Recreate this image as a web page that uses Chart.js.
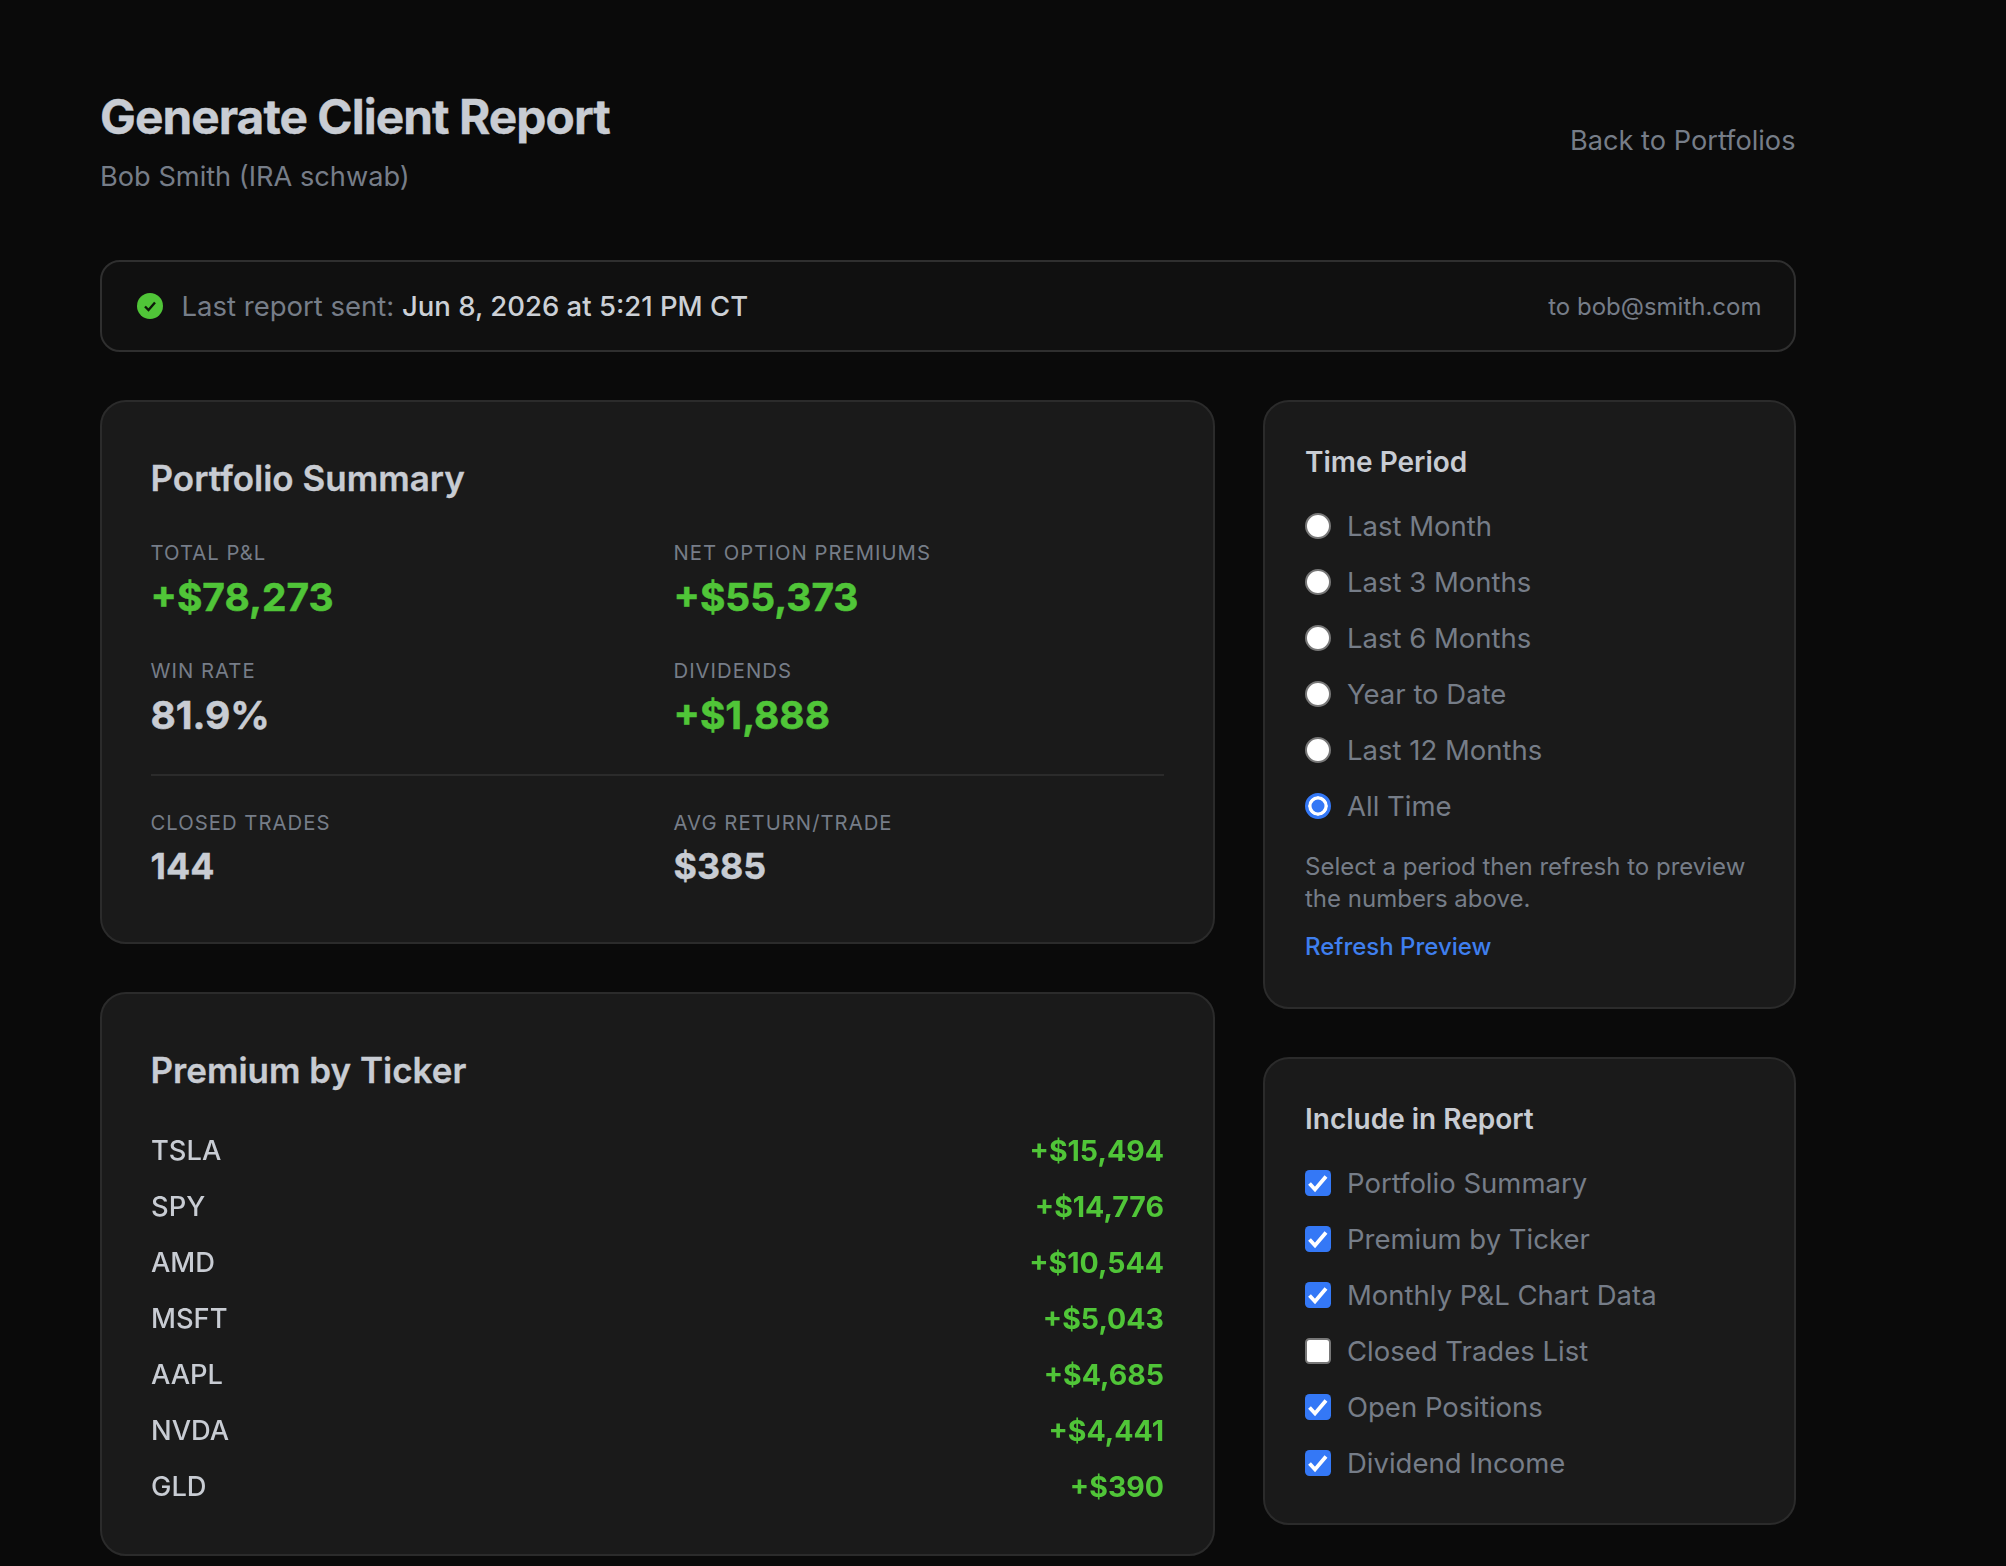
<!DOCTYPE html>
<html>
<head>
<meta charset="utf-8">
<title>Generate Client Report</title>
<script src="https://cdn.jsdelivr.net/npm/chart.js@4"></script>
<style>
  html, body { margin: 0; background: #0a0a0a; }
  body { width: 2006px; height: 1566px; position: relative; overflow: hidden; font-family: Inter, sans-serif; color: #767d88; }
  .t { position: absolute; transform: translateY(-50%); white-space: nowrap; line-height: 1.2; }
  .box { position: absolute; box-sizing: border-box; background: #1a1a1a; border: 2px solid #2b2b2b; border-radius: 26px; }
  .h1 { font-size: 47.8px; font-weight: 700; color: #c8ccd3; letter-spacing: -0.02em; -webkit-text-stroke: 0.4px; }
  .h2 { font-size: 35px; font-weight: 600; color: #c8ccd3; -webkit-text-stroke: 0.3px; }
  .h3 { font-size: 28px; font-weight: 600; color: #c8ccd3; }
  .body { font-size: 27.5px; }
  .sub { font-size: 27.2px; }
  .small { font-size: 24px; }
  .lbl { font-size: 20.3px; letter-spacing: 0.05em; }
  .val { font-size: 38.9px; font-weight: 700; color: #c8ccd3; -webkit-text-stroke: 0.5px; }
  .val2 { font-size: 35.8px; font-weight: 700; color: #c8ccd3; -webkit-text-stroke: 0.4px; }
  .green { color: #50c538; }
  .radio { position: absolute; width: 26px; height: 26px; box-sizing: border-box; border-radius: 50%; background: #fff; border: 2px solid #777; transform: translate(-50%,-50%); }
  .radio.on { background: #3478f6; border: 3px solid #3478f6; box-shadow: inset 0 0 0 3.5px #fff; }
  .check { position: absolute; width: 26px; height: 26px; box-sizing: border-box; border-radius: 4.5px; background: #fff; border: 2px solid #777; transform: translate(-50%,-50%); }
  .check.on { background: #3478f6; border: 0; }
  .check svg { position: absolute; left: 0; top: 0; }
  #tickerWrap { position: absolute; left: 151px; top: 1124px; width: 1013px; height: 392px; }
</style>
</head>
<body>
<div id="page"></div>
<div class="box" style="left:100px;top:992px;width:1115px;height:564px"></div>
<div class="t h2" style="left:150.5px;top:1070px">Premium by Ticker</div>
<div id="tickerWrap"><canvas id="tickerChart"></canvas></div>
<script>
const tickers = ['TSLA', 'SPY', 'AMD', 'MSFT', 'AAPL', 'NVDA', 'GLD'];
const premiums = [15494, 14776, 10544, 5043, 4685, 4441, 390];

const topLabels = ['TOTAL P&L', 'NET OPTION PREMIUMS', 'WIN RATE', 'DIVIDENDS'];
const topValues = ['+$78,273', '+$55,373', '81.9%', '+$1,888'];
const bottomLabels = ['CLOSED TRADES', 'AVG RETURN/TRADE'];
const bottomValues = ['144', '$385'];

const periods = ['Last Month', 'Last 3 Months', 'Last 6 Months', 'Year to Date', 'Last 12 Months', 'All Time'];
const selectedPeriod = 'All Time';
const sections = ['Portfolio Summary', 'Premium by Ticker', 'Monthly P&L Chart Data', 'Closed Trades List', 'Open Positions', 'Dividend Income'];
const unchecked = ['Closed Trades List'];

const page = document.getElementById('page');
function text(cls, x, y, str, right) {
  const d = document.createElement('div');
  d.className = 't ' + cls;
  d.style.top = y + 'px';
  if (right) d.style.right = (2006 - x) + 'px'; else d.style.left = x + 'px';
  d.textContent = str;
  page.appendChild(d);
  return d;
}
function box(x, y, w, h, extra) {
  const d = document.createElement('div');
  d.className = 'box';
  d.style.cssText = `left:${x}px;top:${y}px;width:${w}px;height:${h}px;` + (extra || '');
  page.appendChild(d);
}

// header
text('h1', 100, 117.5, 'Generate Client Report');
text('sub', 100, 176.5, 'Bob Smith (IRA schwab)');
text('sub', 1795.5, 140.5, 'Back to Portfolios', true);

// status bar
box(100, 260, 1696, 92, 'background:#101010;border-color:#2f2f2f;border-radius:20px;');
const icon = document.createElement('div');
icon.innerHTML = '<svg width="26" height="26" viewBox="0 0 26 26" style="position:absolute;left:137px;top:293px"><circle cx="13" cy="13" r="13" fill="#50c538"/><path d="M8 13.5l3.5 3.5L18 9.5" fill="none" stroke="#0d1a0a" stroke-width="2.4"/></svg>';
page.appendChild(icon);
const sent = text('body', 181.5, 306.4, 'Last report sent: ');
sent.style.whiteSpace = 'pre';
const when = document.createElement('span');
when.textContent = 'Jun 8, 2026 at 5:21 PM CT';
when.style.cssText = 'color:#ccd0d6;font-weight:500';
sent.appendChild(when);
text('small', 1761.5, 306.5, 'to bob@smith.com', true);

// portfolio summary
box(100, 400, 1115, 544);
text('h2', 150.5, 478, 'Portfolio Summary');
const colX = [150.5, 673.5];
const labelY = [553, 670.5];
const valueY = [597, 715];
topLabels.forEach((l, i) => {
  const c = i % 2, r = Math.floor(i / 2);
  text('lbl', colX[c], labelY[r], l);
  const isGreen = topValues[i].startsWith('+');
  text('val' + (isGreen ? ' green' : ''), colX[c], valueY[r], topValues[i]);
});
const rule = document.createElement('div');
rule.style.cssText = 'position:absolute;left:151px;top:774px;width:1013px;height:2px;background:#2b2b2b';
page.appendChild(rule);
bottomLabels.forEach((l, i) => {
  text('lbl', colX[i], 822.5, l);
  text('val2', colX[i], 866, bottomValues[i]);
});

// time period
box(1263, 400, 533, 609);
text('h3', 1305, 463, 'Time Period');
periods.forEach((p, i) => {
  const y = 526 + i * 56;
  const r = document.createElement('div');
  r.className = 'radio' + (p === selectedPeriod ? ' on' : '');
  r.style.left = '1318px';
  r.style.top = y + 'px';
  page.appendChild(r);
  text('body', 1347, y + 0.4, p);
});
text('small', 1305, 866.8, 'Select a period then refresh to preview');
text('small', 1305, 898.8, 'the numbers above.');
text('small', 1305, 946.5, 'Refresh Preview').style.cssText += ';color:#3f7fee;font-weight:500';

// include in report
box(1263, 1057, 533, 468);
text('h3', 1305, 1120, 'Include in Report');
sections.forEach((s, i) => {
  const y = 1183 + i * 56;
  const on = !unchecked.includes(s);
  const c = document.createElement('div');
  c.className = 'check' + (on ? ' on' : '');
  c.style.left = '1318px';
  c.style.top = y + 'px';
  if (on) c.innerHTML = '<svg width="26" height="26" viewBox="0 0 26 26"><path d="M4.5 13.5l5.5 6 11-13" fill="none" stroke="#fff" stroke-width="3.8"/></svg>';
  page.appendChild(c);
  text('body', 1347, y + 0.4, s);
});

// premium by ticker: both columns are the chart's own axes
const money = v => '+$' + v.toLocaleString('en-US');
const valueLabels = premiums.map(money);
// tick labels should not push the rows inward
const noPadding = scale => { scale.paddingTop = 0; scale.paddingBottom = 0; };
new Chart(document.getElementById('tickerChart'), {
  type: 'bar',
  data: {
    labels: tickers,
    datasets: [{ label: 'Premium', data: premiums, backgroundColor: 'transparent', yAxisID: 'y' }],
  },
  options: {
    indexAxis: 'y',
    responsive: true,
    maintainAspectRatio: false,
    animation: false,
    layout: { padding: 0 },
    plugins: { legend: { display: false }, tooltip: { enabled: false } },
    scales: {
      x: { display: false },
      y: {
        position: 'left',
        afterFit: noPadding,
        grid: { display: false, drawTicks: false },
        border: { display: false },
        ticks: { color: '#c8ccd3', padding: 0, crossAlign: 'far', font: { family: 'Inter', size: 27.3, weight: 500 } },
      },
      y2: {
        type: 'category',
        position: 'right',
        labels: valueLabels,
        afterFit: noPadding,
        grid: { display: false, drawTicks: false },
        border: { display: false },
        ticks: { color: '#50c538', padding: 0, crossAlign: 'far', font: { family: 'Inter', size: 28.5, weight: 700 } },
      },
    },
  },
});
</script>
</body>
</html>
